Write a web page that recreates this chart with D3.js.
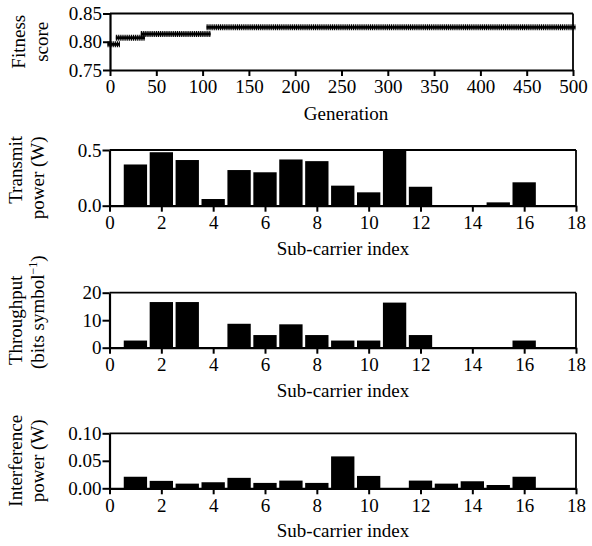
<!DOCTYPE html>
<html>
<head>
<meta charset="utf-8">
<script src="https://cdn.jsdelivr.net/npm/d3@7"></script>
<style>
  html, body { margin: 0; padding: 0; background: #fff; }
  svg { display: block; }
  text { font-family: "Liberation Serif", "Times New Roman", serif; fill: #000; }
</style>
</head>
<body>
<svg id="chart" width="592" height="546"></svg>
<script>
// ---------------- DATA ----------------
// Fitness vs generation (step levels: generation at which each level starts)
const fitnessStepStart = [0, 9, 36, 107];
const fitnessStepValue = [0.7955, 0.807, 0.8135, 0.8255];
const generationMax = 500;
const generationTicks = [0, 50, 100, 150, 200, 250, 300, 350, 400, 450, 500];
const fitnessTicks = [0.75, 0.80, 0.85];

// Sub-carrier indices
const subCarriers = [1, 2, 3, 4, 5, 6, 7, 8, 9, 10, 11, 12, 13, 14, 15, 16, 17];
const subCarrierTicks = [0, 2, 4, 6, 8, 10, 12, 14, 16, 18];

const transmitPower = [0.37, 0.48, 0.41, 0.06, 0.32, 0.30, 0.415, 0.40, 0.18, 0.12, 0.50, 0.17, 0, 0, 0.03, 0.21, 0];
const transmitTicks = [0.0, 0.5];

const throughput = [2.6, 16.6, 16.6, 0, 8.7, 4.6, 8.5, 4.6, 2.6, 2.6, 16.4, 4.6, 0, 0, 0, 2.6, 0];
const throughputTicks = [0, 10, 20];

const interferencePower = [0.021, 0.0135, 0.0085, 0.011, 0.019, 0.0098, 0.014, 0.0098, 0.058, 0.0225, 0, 0.014, 0.0085, 0.0128, 0.006, 0.021, 0];
const interferenceTicks = [0.00, 0.05, 0.10];

// ---------------- DRAW ----------------
const svg = d3.select("#chart");
const FS = 19;

function frame(g, x0, x1, y0, y1) {
  g.append("line").attr("x1", x0).attr("x2", x1).attr("y1", y0).attr("y2", y0)
    .attr("stroke", "#000").attr("stroke-width", 1.8);
  g.append("line").attr("x1", x1).attr("x2", x1).attr("y1", y0).attr("y2", y1)
    .attr("stroke", "#000").attr("stroke-width", 1.8);
}

function styleAxis(sel) {
  sel.attr("font-family", "Liberation Serif");
  sel.select(".domain").attr("stroke", "#000").attr("stroke-width", 2.2);
  sel.selectAll(".tick line").attr("stroke", "#000").attr("stroke-width", 2);
  sel.selectAll(".tick text").attr("font-size", FS).attr("font-family", "Liberation Serif").attr("fill", "#000");
}

function yTitle(g, lines, cy) {
  lines.forEach(l => {
    const t = g.append("text")
      .attr("transform", `translate(${l.x},${cy + (l.dy || 0)}) rotate(-90)`)
      .attr("text-anchor", "middle")
      .attr("font-size", FS);
    if (l.sup) {
      t.append("tspan").text(l.text);
      t.append("tspan").text(l.sup).attr("font-size", 12).attr("dy", -7);
      t.append("tspan").text(l.after).attr("dy", 7);
    } else {
      t.text(l.text);
    }
  });
}

// ---- Panel 1: Fitness ----
{
  const g = svg.append("g");
  const L = 110, R = 573, T = 13.5, B = 70;
  const x = d3.scaleLinear().domain([0, generationMax]).range([L, R]);
  const y = d3.scaleLinear().domain([0.75, 0.85]).range([B, T]);
  frame(g, L, R, T, B);

  const segs = fitnessStepStart.map((s, i) => ({
    a: s,
    b: i < fitnessStepStart.length - 1 ? fitnessStepStart[i + 1] - 1 : generationMax,
    v: fitnessStepValue[i]
  }));
  segs.forEach(s => {
    const xa = x(s.a) - 2.5, xb = x(s.b) + 2.5, yy = y(s.v);
    g.append("line").attr("x1", xa).attr("x2", xb).attr("y1", yy).attr("y2", yy)
      .attr("stroke", "#000").attr("stroke-width", 6).attr("stroke-dasharray", "1.1,0.8");
    g.append("line").attr("x1", xa).attr("x2", xb).attr("y1", yy).attr("y2", yy)
      .attr("stroke", "#000").attr("stroke-width", 3);
  });

  g.append("g").attr("transform", `translate(0,${B})`)
    .call(d3.axisBottom(x).tickValues(generationTicks).tickSize(6).tickPadding(4).tickSizeOuter(0))
    .call(styleAxis);
  g.append("g").attr("transform", `translate(${L},0)`)
    .call(d3.axisLeft(y).tickValues(fitnessTicks).tickFormat(d3.format(".2f")).tickSize(7).tickPadding(1).tickSizeOuter(0))
    .call(styleAxis);

  g.append("text").attr("x", 346).attr("y", 120).attr("text-anchor", "middle").attr("font-size", FS).text("Generation");
  yTitle(g, [{ text: "Fitness", x: 25 }, { text: "score", x: 48 }], (T + B) / 2);
}

// ---- Bar panels ----
function barPanel(opts) {
  const g = svg.append("g");
  const L = 109.5, R = 576, T = opts.top, B = opts.top + opts.h;
  const x = d3.scaleLinear().domain([0, 18]).range([L, R]);
  const y = d3.scaleLinear().domain(opts.domain).range([B, T]);
  const bw = (x(1) - x(0)) * 0.9;
  frame(g, L, R, T, B);

  g.selectAll("rect.bar").data(subCarriers.map((c, i) => ({ c, v: opts.values[i] })))
    .join("rect").attr("class", "bar")
    .attr("x", d => x(d.c) - bw / 2)
    .attr("width", bw)
    .attr("y", d => y(d.v))
    .attr("height", d => B - y(d.v))
    .attr("fill", "#000");

  g.append("g").attr("transform", `translate(0,${B})`)
    .call(d3.axisBottom(x).tickValues(subCarrierTicks).tickSize(6).tickPadding(4).tickSizeOuter(0))
    .call(styleAxis);
  g.append("g").attr("transform", `translate(${L},0)`)
    .call(d3.axisLeft(y).tickValues(opts.ticks).tickFormat(d3.format(opts.fmt)).tickSize(7).tickPadding(1).tickSizeOuter(0))
    .call(styleAxis);

  g.append("text").attr("x", 343).attr("y", B + 49).attr("text-anchor", "middle").attr("font-size", FS).text("Sub-carrier index");
  yTitle(g, opts.title, (T + B) / 2);
}

barPanel({
  top: 150, h: 55.7, domain: [0, 0.5], values: transmitPower, ticks: transmitTicks, fmt: ".1f",
  title: [{ text: "Transmit", x: 22, dy: -8 }, { text: "power (W)", x: 44 }]
});
barPanel({
  top: 292.7, h: 55, domain: [0, 20], values: throughput, ticks: throughputTicks, fmt: "d",
  title: [{ text: "Throughput", x: 22 }, { text: "(bits symbol", sup: "−1", after: ")", x: 44, dy: -8 }]
});
barPanel({
  top: 433.3, h: 55, domain: [0, 0.10], values: interferencePower, ticks: interferenceTicks, fmt: ".2f",
  title: [{ text: "Interference", x: 22 }, { text: "power (W)", x: 44 }]
});
</script>
</body>
</html>
